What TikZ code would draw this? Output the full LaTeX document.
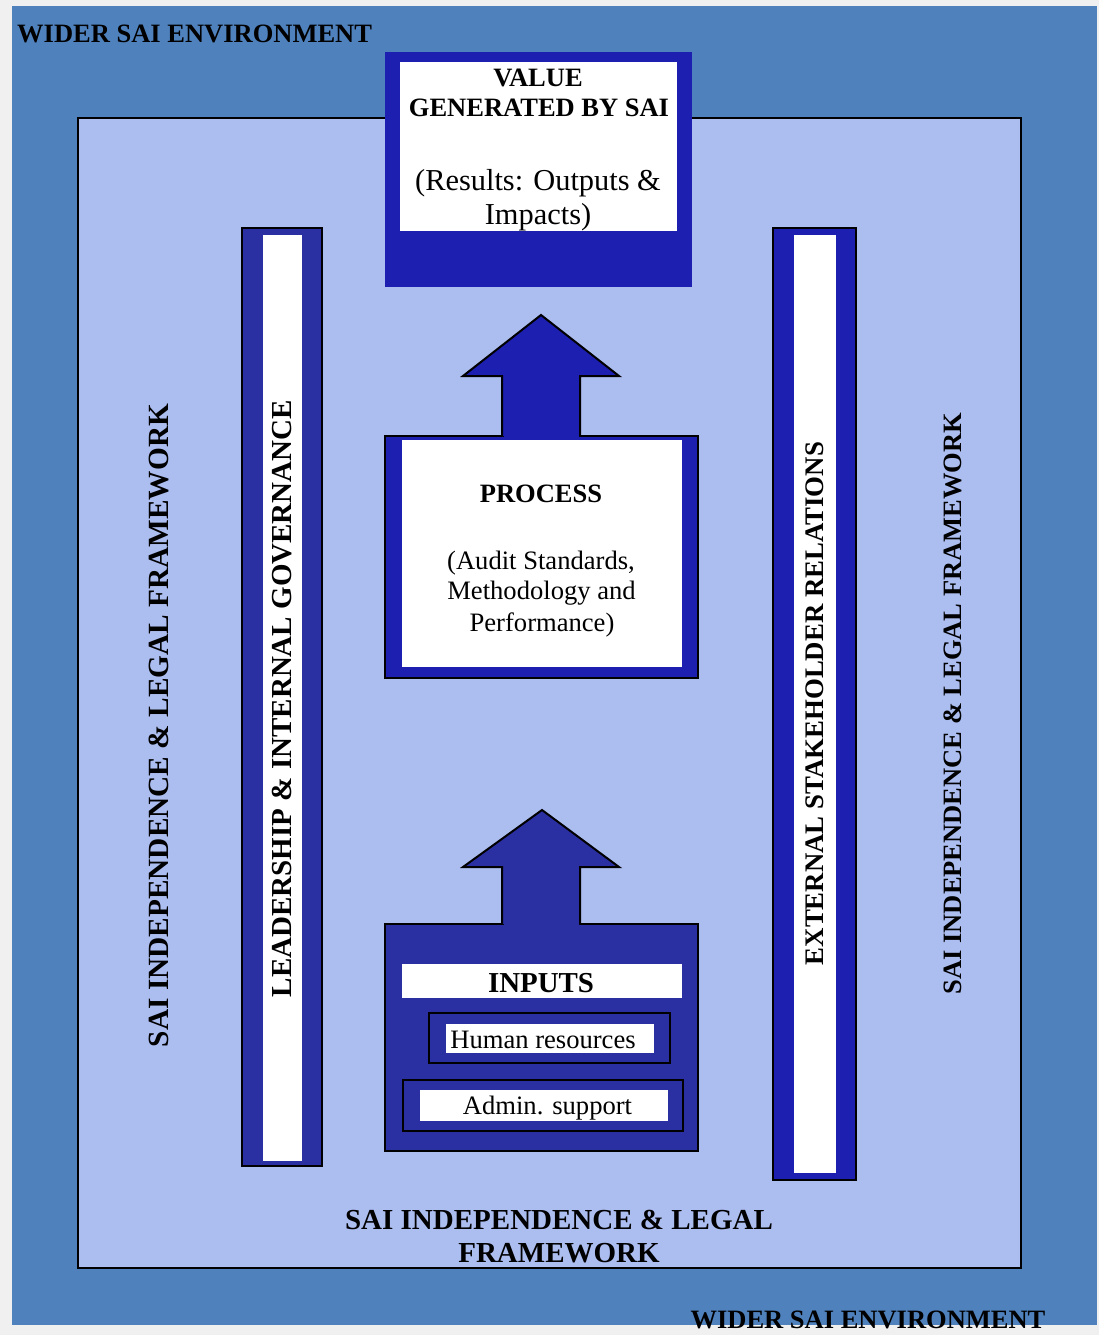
\documentclass[tikz,border=0pt]{standalone}
\usepackage{fontspec}
\setmainfont{Liberation Serif}
\definecolor{pagegrey}{HTML}{F0F0F0}
\definecolor{envblue}{HTML}{4F81BD}
\definecolor{fieldblue}{HTML}{ACBDF0}
\definecolor{deepblue}{HTML}{1C1FB0}
\definecolor{midblue}{HTML}{2A30A2}
\tikzset{
  frame/.style={draw=black, line width=2pt},
  lbl/.style={inner sep=0pt, anchor=base},
  bigbold/.style={lbl, font=\fontsize{29}{33}\selectfont\bfseries},
  headbold/.style={lbl, font=\fontsize{26.5}{30}\selectfont\bfseries},
  plain/.style={lbl, font=\fontsize{26.6}{31}\selectfont},
  plainlg/.style={lbl, font=\fontsize{30.4}{34}\selectfont},
  vert/.style={inner sep=0pt, anchor=center, rotate=90},
}
\begin{document}
\begin{tikzpicture}[x=1pt,y=-1pt]
\useasboundingbox (0,0) rectangle (1099,1335);
% page and environment fields
\fill[pagegrey] (0,0) rectangle (1099,1335);
\fill[envblue] (12,6) rectangle (1097,1325);
\draw[frame, fill=fieldblue] (78,118) rectangle (1021,1268);

\node[headbold, anchor=base west] (envtop) at (17,43) {WIDER SAI ENVIRONMENT};
\node[headbold] (envbot) at (868,1328) {WIDER SAI ENVIRONMENT};

% value box
\fill[deepblue] (385,52) rectangle (692,287);
\fill[white] (400,62) rectangle (677,231);
\node[headbold] (val1) at (538,87) {VALUE};
\node[headbold] (val2) at (539,117) {GENERATED BY SAI};
\node[plainlg] (val3) at (538,190) {(Results: Outputs \&};
\node[plainlg] (val4) at (538,224) {Impacts)};

% side bars
\draw[frame, fill=midblue] (242,228) rectangle (322,1166);
\fill[white] (263,235) rectangle (302,1161);
\draw[frame, fill=deepblue] (773,228) rectangle (856,1180);
\fill[white] (794,235) rectangle (836,1173);
\node[vert, font=\fontsize{29}{33}\selectfont\bfseries] (lead) at (282,698.5) {LEADERSHIP \& INTERNAL GOVERNANCE};
\node[vert, font=\fontsize{26.8}{30}\selectfont\bfseries] (ext) at (815,703.5) {EXTERNAL STAKEHOLDER RELATIONS};
\node[vert, font=\fontsize{29.3}{33}\selectfont\bfseries] (indl) at (159,725.5) {SAI INDEPENDENCE \& LEGAL FRAMEWORK};
\node[vert, font=\fontsize{26.5}{30}\selectfont\bfseries] (indr) at (953,703.5) {SAI INDEPENDENCE \& LEGAL FRAMEWORK};

% process box with its arrow
\draw[frame, fill=deepblue] (385,436) rectangle (698,678);
\fill[white] (402,440) rectangle (682,667);
\draw[frame, fill=deepblue, line join=miter] (502,436) -- (502,376) -- (463,376) -- (541,315) -- (619,376) -- (580,376) -- (580,436);
\fill[deepblue] (503.5,430) rectangle (578.5,439.5);
\node[headbold] (proc) at (541,502) {PROCESS};
\node[plain] (proc1) at (541,569) {(Audit Standards,};
\node[plain] (proc2) at (541.5,599) {Methodology and};
\node[plain] (proc3) at (542,631) {Performance)};

% inputs box with its arrow
\draw[frame, fill=midblue] (385,924) rectangle (698,1151);
\draw[frame, fill=midblue, line join=miter] (502,924) -- (502,867) -- (463,867) -- (542,810) -- (619,867) -- (580,867) -- (580,924);
\fill[midblue] (503.5,918) rectangle (578.5,930);
\fill[white] (402,964) rectangle (682,998);
\node[lbl, font=\fontsize{28.9}{32}\selectfont\bfseries] (inp) at (541,992) {INPUTS};
\draw[frame, fill=midblue] (429,1013) rectangle (670,1063);
\fill[white] (446,1024) rectangle (654,1053);
\node[plain] (hum) at (543,1048) {Human resources};
\draw[frame, fill=midblue] (403,1080) rectangle (683,1131);
\fill[white] (420,1090) rectangle (668,1121);
\node[plain] (adm) at (547.5,1114) {Admin. support};

% bottom caption of the field
\node[bigbold] (indb1) at (559,1229) {SAI INDEPENDENCE \& LEGAL};
\node[bigbold] (indb2) at (559,1262) {FRAMEWORK};
\end{tikzpicture}
\end{document}
